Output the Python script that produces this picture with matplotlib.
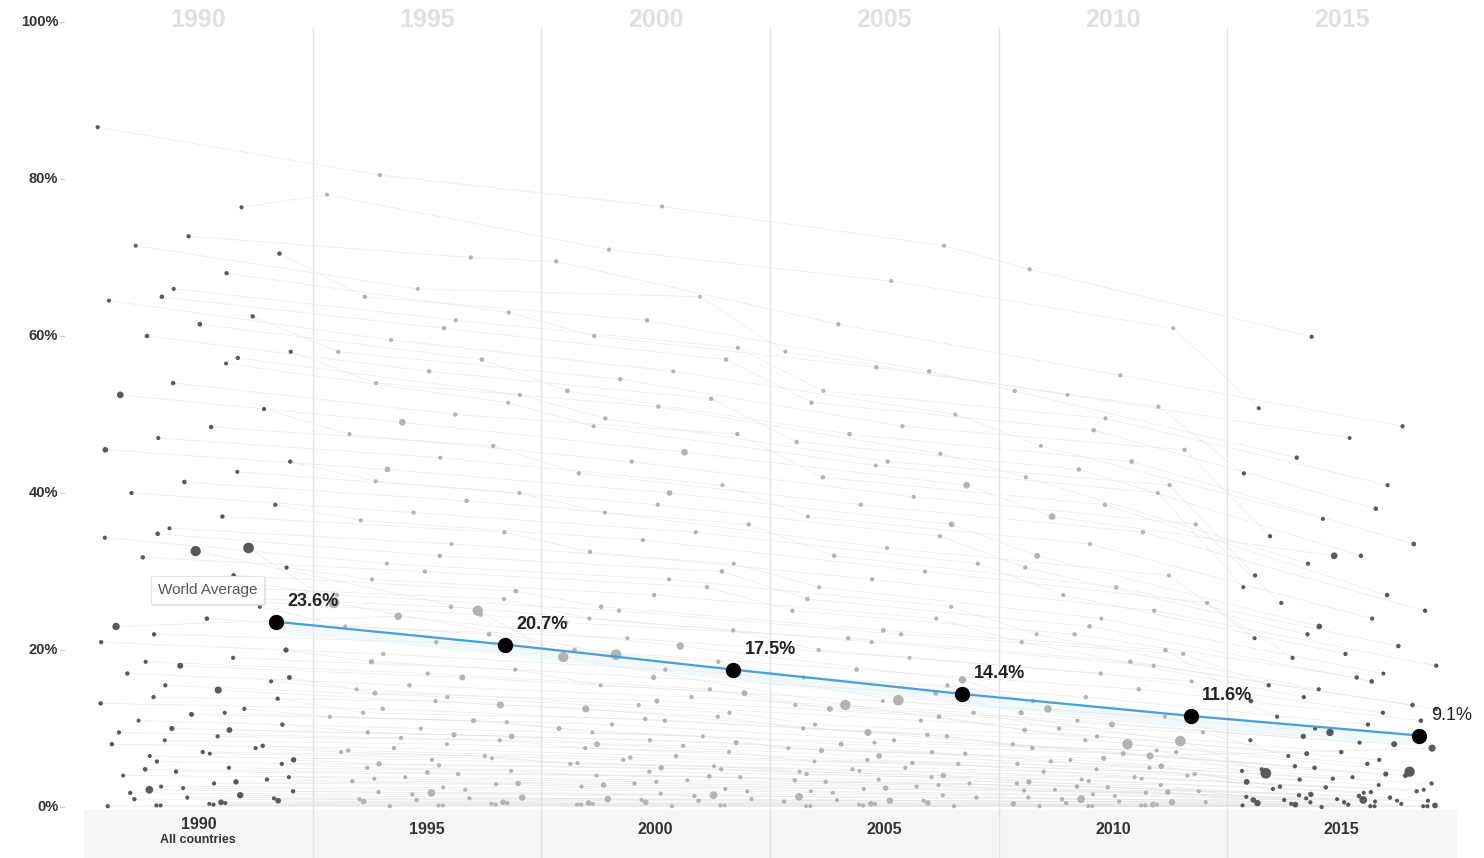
import matplotlib
matplotlib.use('Agg')
import matplotlib.pyplot as plt
import numpy as np

plt.rcParams['font.family'] = ['Liberation Sans', 'DejaVu Sans']

years = [1990, 1995, 2000, 2005, 2010, 2015]
world_avg = [23.6, 20.7, 17.5, 14.4, 11.6, 9.1]
y_ticks = [0, 20, 40, 60, 80, 100]

# share of population in poverty (%), one entry per country, same order in every list
v1990 = [86.6, 76.4, 72.7, 71.5, 70.5, 68.0, 66.0, 65.0, 64.5, 62.5,
         61.5, 60.0, 58.0, 57.2, 56.5, 54.0, 52.5, 50.7, 48.4, 47.0,
         45.5, 44.0, 42.7, 41.4, 40.0, 38.5, 37.0, 35.5, 34.8, 34.3,
         33.0, 32.6, 31.8, 30.5, 29.5, 28.0, 27.0, 23.0, 25.5, 24.0,
         22.0, 21.0, 20.0, 19.0, 18.0, 17.0, 16.0, 14.9, 15.5, 14.0,
         13.2, 12.5, 11.8, 11.0, 10.5, 9.8, 9.0, 8.5, 8.0, 7.5,
         7.0, 6.5, 6.0, 5.5, 5.0, 4.5, 4.0, 3.5, 3.0, 2.6,
         2.2, 2.0, 1.5, 1.2, 1.0, 0.8, 0.5, 0.3, 0.2, 0.1,
         28.5, 26.5, 18.5, 16.5, 13.8, 12.0, 10.0, 9.5, 7.8, 6.8,
         5.8, 4.8, 3.8, 3.2, 2.4, 1.8, 1.1, 0.6, 0.4, 0.2]
v1995 = [80.5, 78.0, 70.0, 66.0, 65.0, 63.0, 62.0, 61.0, 59.5, 58.0,
         57.0, 55.5, 54.0, 52.5, 51.5, 50.0, 49.0, 47.5, 46.0, 44.5,
         43.0, 41.5, 40.0, 39.0, 37.5, 36.5, 35.0, 33.5, 32.0, 31.0,
         26.0, 25.0, 30.0, 29.0, 27.5, 26.5, 25.5, 24.3, 23.0, 22.0,
         21.0, 19.5, 18.5, 17.5, 16.5, 15.5, 15.0, 13.0, 14.0, 13.5,
         12.5, 11.5, 11.0, 10.0, 9.5, 9.0, 8.5, 8.0, 7.5, 7.0,
         6.5, 6.0, 5.5, 5.0, 4.6, 4.2, 3.8, 3.3, 2.9, 2.5,
         1.8, 1.9, 1.2, 1.1, 0.9, 0.7, 0.5, 0.3, 0.2, 0.1,
         27.0, 24.5, 17.0, 14.5, 12.0, 10.8, 9.2, 8.8, 7.2, 6.2,
         5.3, 4.4, 3.6, 3.0, 2.2, 1.6, 1.0, 0.6, 0.4, 0.2]
v2000 = [76.5, 71.0, 69.5, 65.0, 62.0, 60.0, 58.5, 57.0, 55.5, 54.5,
         53.0, 52.0, 51.0, 49.5, 48.5, 47.5, 45.2, 44.0, 42.5, 41.0,
         40.0, 38.5, 37.5, 36.0, 35.0, 34.0, 32.5, 31.0, 30.0, 29.0,
         19.4, 19.1, 28.0, 27.0, 25.5, 24.0, 22.5, 20.5, 21.5, 20.0,
         18.5, 17.5, 16.5, 15.5, 14.5, 14.0, 13.0, 12.5, 12.0, 11.5,
         11.0, 10.5, 10.0, 9.0, 8.5, 8.0, 7.5, 7.0, 6.5, 6.0,
         5.5, 5.2, 5.0, 4.5, 4.0, 3.8, 3.4, 3.0, 2.6, 2.3,
         1.5, 1.7, 1.0, 1.0, 0.8, 0.6, 0.4, 0.3, 0.2, 0.1,
         25.0, 23.5, 15.0, 13.5, 11.2, 9.5, 8.2, 7.8, 6.3, 5.6,
         4.8, 3.9, 3.2, 2.8, 2.0, 1.4, 0.9, 0.5, 0.3, 0.2]
v2005 = [71.5, 67.0, 61.5, 58.0, 55.5, 56.0, 53.0, 51.5, 50.0, 48.5,
         47.5, 46.5, 45.0, 44.0, 43.5, 42.0, 41.0, 39.5, 38.5, 37.0,
         36.0, 34.5, 33.0, 32.0, 31.0, 30.0, 29.0, 28.0, 26.5, 25.5,
         13.6, 13.0, 25.0, 24.0, 22.5, 21.0, 20.0, 16.2, 19.0, 17.5,
         16.5, 15.5, 14.5, 13.5, 12.5, 12.0, 11.0, 9.5, 10.5, 10.0,
         9.0, 8.5, 8.0, 7.5, 7.0, 6.5, 6.0, 5.8, 5.5, 5.0,
         4.8, 4.5, 4.0, 3.8, 3.5, 3.2, 3.0, 2.6, 2.3, 2.0,
         1.3, 1.5, 0.8, 0.9, 0.7, 0.5, 0.4, 0.2, 0.1, 0.1,
         22.0, 21.5, 13.0, 11.5, 9.2, 8.2, 7.2, 6.8, 5.6, 4.6,
         4.2, 3.4, 2.8, 2.4, 1.8, 1.2, 0.8, 0.4, 0.3, 0.1]
v2010 = [68.5, 61.0, 55.0, 52.5, 53.0, 51.0, 49.5, 48.0, 46.0, 45.5,
         44.0, 43.0, 42.0, 41.0, 40.0, 38.5, 37.0, 36.0, 35.0, 33.5,
         32.0, 30.5, 29.5, 28.0, 27.0, 26.0, 25.0, 24.0, 23.0, 22.0,
         8.4, 8.0, 22.0, 21.0, 20.0, 18.0, 17.0, 12.5, 16.0, 15.0,
         14.0, 13.5, 12.0, 11.5, 10.5, 10.0, 9.5, 6.5, 9.0, 8.5,
         7.5, 7.0, 6.8, 6.0, 5.5, 5.2, 5.0, 4.8, 4.5, 4.0,
         3.8, 3.5, 3.2, 3.0, 2.8, 2.5, 2.2, 2.0, 1.8, 1.6,
         1.0, 1.2, 0.6, 0.7, 0.5, 0.4, 0.3, 0.2, 0.1, 0.1,
         19.5, 18.5, 11.0, 9.8, 8.0, 7.2, 6.2, 5.8, 4.2, 3.6,
         3.3, 2.6, 2.1, 1.9, 1.4, 1.0, 0.6, 0.3, 0.2, 0.1]
v2015 = [59.9, 50.8, 48.5, 47.0, 44.5, 42.5, 41.0, 38.0, 36.7, 34.5,
         33.5, 32.0, 31.0, 29.5, 28.0, 27.0, 32.0, 26.0, 25.0, 24.0,
         23.0, 22.0, 21.5, 20.5, 19.5, 19.0, 18.0, 17.0, 16.0, 15.0,
         4.3, 4.5, 16.5, 14.0, 13.5, 12.5, 12.0, 9.5, 11.5, 11.0,
         10.5, 10.0, 9.0, 8.5, 8.0, 7.0, 6.5, 7.5, 6.0, 5.5,
         5.0, 4.8, 4.0, 3.8, 3.5, 3.2, 3.0, 2.8, 2.5, 2.3,
         2.0, 1.8, 1.6, 1.5, 1.3, 1.2, 1.0, 0.9, 0.8, 0.7,
         0.9, 0.6, 0.5, 0.4, 0.3, 0.3, 0.2, 0.1, 0.1, 0.0,
         15.5, 13.0, 8.2, 6.8, 5.2, 4.6, 4.2, 3.6, 2.6, 2.2,
         1.9, 1.4, 1.1, 0.9, 0.8, 0.6, 0.4, 0.2, 0.1, 0.1]
# population (millions), drives dot size
population = [8, 6, 10, 5, 12, 9, 7, 15, 6, 11,
              20, 14, 8, 10, 5, 13, 150, 9, 12, 7,
              60, 10, 6, 14, 9, 8, 11, 5, 16, 7,
              1300, 1100, 12, 9, 20, 8, 10, 250, 6, 15,
              11, 9, 40, 7, 80, 12, 6, 200, 9, 10,
              14, 8, 30, 6, 11, 70, 9, 5, 12, 8,
              10, 6, 45, 9, 7, 13, 5, 10, 8, 6,
              300, 9, 120, 7, 10, 60, 6, 8, 5, 9,
              9, 14, 7, 25, 10, 6, 35, 8, 12, 5,
              9, 18, 7, 50, 6, 10, 8, 65, 5, 7]

values = np.array([v1990, v1995, v2000, v2005, v2010, v2015]).T
n = values.shape[0]

# horizontal spread of the countries inside each year column
xs = np.zeros_like(values)
for i in range(n):
    for c in range(6):
        frac = (i * 0.6180339 + c * 0.2718 + (i % 7) * 0.113) % 1.0
        xs[i, c] = c + 0.06 + 0.86 * frac

sizes = 5 + 1.5 * np.sqrt(np.array(population))

fig = plt.figure(figsize=(14.84, 8.58), dpi=100)
ax = fig.add_axes([84 / 1484, 0, 1372 / 1484, 1])
ax.set_xlim(0, 6)
ax.set_ylim(-51 / 7.85, 807 / 7.85)
ax.axis('off')

# bottom band behind the year labels
ax.fill_between([0.0, 6.02], -6.5, -0.35, color='#f6f6f6', lw=0, zorder=0)

# column separators
for c in range(1, 6):
    ax.plot([c, c], [-6.5, 99.2], color='#e4e4e4', lw=1.0, zorder=0.5)

# country trajectories
for i in range(n):
    ax.plot(xs[i], values[i], color='#e2e2e2', lw=0.5, alpha=0.7, zorder=1)

for c in range(6):
    col = '#595959' if c in (0, 5) else '#b3b3b3'
    ax.scatter(xs[:, c], values[:, c], s=sizes, color=col, lw=0, zorder=2)

# world average
avg_x = np.arange(6) + 0.84
ax.fill_between(avg_x, np.array(world_avg) - 1.3, np.array(world_avg) + 0.3,
                color='#e3f2fc', alpha=0.45, lw=0, zorder=1.5)
ax.plot(avg_x, world_avg, color='#4a9fd6', lw=1.6, zorder=3)
ax.plot(avg_x, world_avg, 'o', color='black', ms=10, zorder=4)
for k, (x, v) in enumerate(zip(avg_x, world_avg)):
    ax.text(x + 0.05, v + 1.5, '{:.1f}%'.format(v), fontsize=13,
            fontweight='bold' if k < 5 else 'normal', color='#222222',
            va='bottom', ha='left', zorder=5)

# label box with a soft shadow
ax.text(0.547, 27.35, 'World Average', fontsize=11, color='white',
        ha='center', va='center', zorder=5.5,
        bbox=dict(boxstyle='square,pad=0.45', fc='#d8d8d8', ec='none', alpha=0.6))
ax.text(0.54, 27.6, 'World Average', fontsize=11, color='#555555',
        ha='center', va='center', zorder=6,
        bbox=dict(boxstyle='square,pad=0.45', fc='white', ec='#e3e3e3', lw=0.8))

# y axis labels
for t in y_ticks:
    ax.text(-0.113, t, '{}%'.format(t), fontsize=10.5, fontweight='bold',
            color='#333333', ha='right', va='center', clip_on=False)
    ax.plot([-0.104, -0.086], [t, t], color='#cccccc', lw=0.8, clip_on=False)

# year labels top and bottom
for c, yr in enumerate(years):
    ax.text(c + 0.5, 100.3, str(yr), fontsize=18, fontweight='bold',
            color='#e0e0e0', ha='center', va='center')
    if c == 0:
        ax.text(c + 0.5, -2.2, str(yr), fontsize=11.5, fontweight='bold',
                color='#333333', ha='center', va='center')
        ax.text(c + 0.5, -4.2, 'All countries', fontsize=9, fontweight='bold',
                color='#333333', ha='center', va='center')
    else:
        ax.text(c + 0.5, -2.9, str(yr), fontsize=11.5, fontweight='bold',
                color='#333333', ha='center', va='center')

plt.savefig('out.png', dpi=100, facecolor='white')
plt.close(fig)
